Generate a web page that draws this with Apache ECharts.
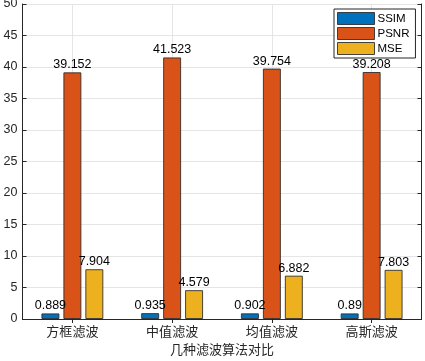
<!DOCTYPE html>
<html><head><meta charset="utf-8">
<script src="https://cdn.jsdelivr.net/npm/echarts@6/dist/echarts.min.js"></script>
<style>html,body{margin:0;padding:0;background:#fff}#c{width:425px;height:361px}</style>
</head><body><div id="c"></div>
<script>
const categories = ['方框滤波', '中值滤波', '均值滤波', '高斯滤波'];
const ssim = [0.889, 0.935, 0.902, 0.89];
const psnr = [39.152, 41.523, 39.754, 39.208];
const mse = [7.904, 4.579, 6.882, 7.803];
const seriesNames = ['SSIM', 'PSNR', 'MSE'];
const yTicks = {min: 0, max: 50, interval: 5};

const chart = echarts.init(document.getElementById('c'), null, {renderer: 'canvas'});
const axisColor = '#262626';
const gridColor = '#e5e5e5';
const numFont = 'Liberation Sans, Arial, sans-serif';
const cjkFont = 'Noto Sans CJK SC, sans-serif';
function mk(name, data, color) {
  return {
    name: name, type: 'bar', data: data, barWidth: 18, barGap: '22%',
    itemStyle: {color: color, borderColor: 'rgba(40,40,40,0.85)', borderWidth: 1},
    label: {show: true, position: 'top', distance: 1, color: '#000', fontFamily: numFont, fontSize: 12.5},
    emphasis: {disabled: true}
  };
}
chart.setOption({
  animation: false,
  grid: {left: 22.5, right: 3.5, top: 4, bottom: 42, containLabel: false, outerBoundsMode: 'none'},
  legend: {
    orient: 'vertical', left: 334, top: 9, width: 80,
    padding: [3, 6, 3, 3], itemGap: 2, itemWidth: 37, itemHeight: 12,
    borderColor: '#262626', borderWidth: 1, backgroundColor: '#fff',
    textStyle: {fontFamily: numFont, fontSize: 11.5, color: '#000', padding: [0, 0, 0, -2]},
    icon: 'rect',
    itemStyle: {borderColor: 'rgba(40,40,40,0.85)', borderWidth: 1},
    data: seriesNames
  },
  xAxis: [{
    type: 'category', data: categories, position: 'bottom',
    name: '几种滤波算法对比', nameLocation: 'middle', nameGap: 22,
    nameTextStyle: {fontFamily: cjkFont, fontSize: 13, color: axisColor},
    axisLine: {lineStyle: {color: axisColor, width: 1}},
    axisTick: {show: true, inside: true, alignWithLabel: true, length: 4, lineStyle: {color: axisColor}},
    axisLabel: {fontFamily: cjkFont, fontSize: 13, color: axisColor, margin: 6},
    splitLine: {show: true, alignWithLabel: true, lineStyle: {color: gridColor}}
  }, {
    type: 'category', data: categories, position: 'top',
    axisLine: {lineStyle: {color: axisColor, width: 1}},
    axisTick: {show: true, inside: true, alignWithLabel: true, length: 4, lineStyle: {color: axisColor}},
    axisLabel: {show: false}, splitLine: {show: false}
  }],
  yAxis: [{
    type: 'value', min: yTicks.min, max: yTicks.max, interval: yTicks.interval, position: 'left',
    axisLine: {show: true, lineStyle: {color: axisColor, width: 1}},
    axisTick: {show: true, inside: true, length: 4, lineStyle: {color: axisColor}},
    axisLabel: {fontFamily: numFont, fontSize: 12.5, color: axisColor, margin: 5},
    splitLine: {show: true, lineStyle: {color: gridColor}}
  }, {
    type: 'value', min: yTicks.min, max: yTicks.max, interval: yTicks.interval, position: 'right',
    axisLine: {show: true, lineStyle: {color: axisColor, width: 1}},
    axisTick: {show: true, inside: true, length: 4, lineStyle: {color: axisColor}},
    axisLabel: {show: false}, splitLine: {show: false}
  }],
  series: [mk('SSIM', ssim, '#0072BD'), mk('PSNR', psnr, '#D95319'), mk('MSE', mse, '#EDB120')]
});
</script></body></html>
